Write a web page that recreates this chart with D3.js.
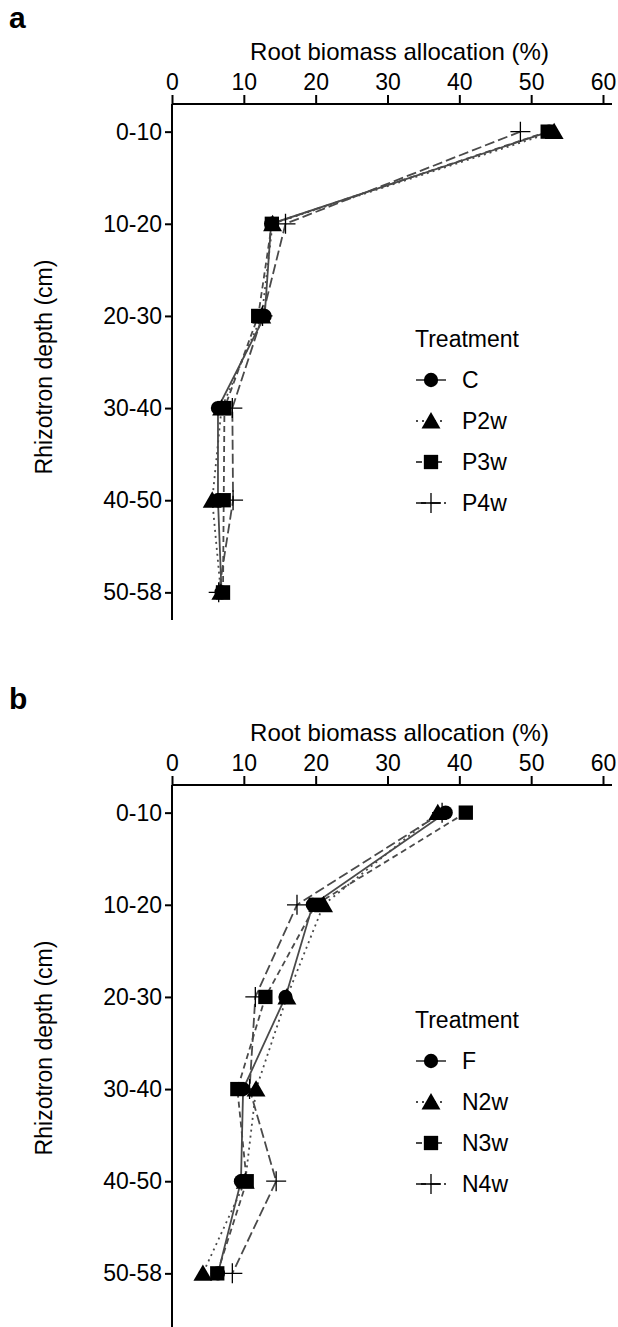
<!DOCTYPE html>
<html>
<head>
<meta charset="utf-8">
<script src="https://cdn.jsdelivr.net/npm/d3@7"></script>
<style>
  html, body { margin: 0; padding: 0; background: #fff; }
  svg { display: block; font-family: "Liberation Sans", Arial, sans-serif; }
</style>
</head>
<body>
<svg id="chart" width="618" height="1327"></svg>
<script>
// ---- data ----
const depths = ["0-10", "10-20", "20-30", "30-40", "40-50", "50-58"];
const xTicks = [0, 10, 20, 30, 40, 50, 60];

const seriesA = ["C", "P2w", "P3w", "P4w"];
const valuesA_C   = [52.5, 13.8, 12.9, 6.4, 6.4, 6.9];
const valuesA_P2w = [53.2, 14.0, 12.5, 6.9, 5.6, 6.8];
const valuesA_P3w = [52.3, 13.9, 12.0, 7.3, 7.2, 7.1];
const valuesA_P4w = [48.5, 15.8, 12.6, 8.4, 8.5, 6.5];

const seriesB = ["F", "N2w", "N3w", "N4w"];
const valuesB_F   = [38.1, 19.6, 15.8, 9.9, 9.6, 6.4];
const valuesB_N2w = [37.0, 21.1, 16.0, 11.7, 10.2, 4.3];
const valuesB_N3w = [40.9, 20.0, 13.0, 9.1, 10.4, 6.3];
const valuesB_N4w = [37.6, 17.4, 11.6, 10.8, 14.5, 8.4];

const xTitle = "Root biomass allocation (%)";
const yTitle = "Rhizotron depth (cm)";
const legendTitle = "Treatment";

// ---- styling ----
const shapes = ["circle", "triangle", "square", "plus"];
const dashes = [null, "2,4", "6,4", "10,4"];
const lineColor = "#4a4a4a";
const FONT = 23;

const svg = d3.select("#chart");

function symbolPath(shape) {
  if (shape === "circle") return d3.symbol().type(d3.symbolCircle).size(160)();
  if (shape === "triangle") return d3.symbol().type(d3.symbolTriangle).size(155)();
  if (shape === "square") return d3.symbol().type(d3.symbolSquare).size(205)();
  return null;
}

function drawSymbol(g, shape, x, y) {
  if (shape === "plus") {
    g.append("path")
      .attr("d", `M${x-10},${y}H${x+10}M${x},${y-10}V${y+10}`)
      .attr("stroke", "#000").attr("stroke-width", 1.3).attr("fill", "none");
  } else {
    const t = shape === "triangle" ? 2 : 0;
    g.append("path")
      .attr("d", symbolPath(shape))
      .attr("transform", `translate(${x},${y + t})`)
      .attr("fill", "#000");
  }
}

function drawPanel(label, names, values, top, bottom, legendY) {
  const left = 172, right = 603;
  const g = svg.append("g");

  const x = d3.scaleLinear().domain([0, 60]).range([left, right]);
  const y = d3.scalePoint().domain(depths).range([top, bottom]).padding(0.3);

  // panel letter
  g.append("text").attr("x", 9).attr("y", top - 76)
    .attr("font-size", 30).attr("font-weight", "bold").attr("fill", "#000")
    .text(label);

  // x axis (top)
  const xAxis = g.append("g").attr("transform", `translate(0,${top})`)
    .call(d3.axisTop(x).tickValues(xTicks).tickSize(9).tickPadding(5).tickSizeOuter(0));
  xAxis.select(".domain").attr("stroke-width", 2).attr("d", `M${left},0H${612}`);
  xAxis.selectAll(".tick line").attr("stroke-width", 2);
  xAxis.selectAll("text").attr("font-size", FONT).attr("fill", "#000")
    .attr("font-family", "Liberation Sans, Arial, sans-serif");

  g.append("text").attr("x", (left + right) / 2 + 12).attr("y", top - 44)
    .attr("text-anchor", "middle").attr("font-size", 24).attr("fill", "#000")
    .text(xTitle);

  // y axis (left)
  const yAxis = g.append("g").attr("transform", `translate(${left},0)`)
    .call(d3.axisLeft(y).tickSize(7).tickPadding(3).tickSizeOuter(0));
  yAxis.select(".domain").attr("stroke-width", 2).attr("d", `M0,${top}V${bottom}`);
  yAxis.selectAll(".tick line").attr("stroke-width", 2);
  yAxis.selectAll("text").attr("font-size", FONT).attr("fill", "#000")
    .attr("font-family", "Liberation Sans, Arial, sans-serif");

  g.append("text")
    .attr("transform", `translate(52,${(top + Math.min(bottom, top + 516)) / 2 + 5}) rotate(-90)`)
    .attr("text-anchor", "middle").attr("font-size", FONT).attr("fill", "#000")
    .text(yTitle);

  // lines
  const line = d3.line().x(d => x(d.v)).y(d => y(d.depth));
  names.forEach((n, i) => {
    const pts = depths.map((dp, j) => ({ depth: dp, v: values[i][j] }));
    g.append("path").datum(pts)
      .attr("d", line)
      .attr("fill", "none")
      .attr("stroke", lineColor)
      .attr("stroke-width", 1.8)
      .attr("stroke-dasharray", dashes[i]);
  });
  // points
  names.forEach((n, i) => {
    depths.forEach((dp, j) => drawSymbol(g, shapes[i], x(values[i][j]), y(dp)));
  });

  // legend
  const lx = 415;
  g.append("text").attr("x", lx).attr("y", legendY + 8)
    .attr("font-size", FONT).attr("fill", "#000").text(legendTitle);
  names.forEach((n, i) => {
    const cy = legendY + 41 * (i + 1);
    g.append("path").attr("d", `M${lx + 1},${cy}H${lx + 31}`)
      .attr("stroke", lineColor).attr("stroke-width", 1.8)
      .attr("stroke-dasharray", dashes[i]);
    drawSymbol(g, shapes[i], lx + 16, cy);
    g.append("text").attr("x", lx + 47).attr("y", cy + 8)
      .attr("font-size", FONT).attr("fill", "#000").text(n);
  });
}

drawPanel("a", seriesA, [valuesA_C, valuesA_P2w, valuesA_P3w, valuesA_P4w], 104, 620, 339);
drawPanel("b", seriesB, [valuesB_F, valuesB_N2w, valuesB_N3w, valuesB_N4w], 785, 1301, 1020);
// extend panel b y-axis to the bottom edge, as in the reference
svg.append("line").attr("x1", 172).attr("x2", 172).attr("y1", 1301).attr("y2", 1327)
  .attr("stroke", "#000").attr("stroke-width", 2);
</script>
</body>
</html>
